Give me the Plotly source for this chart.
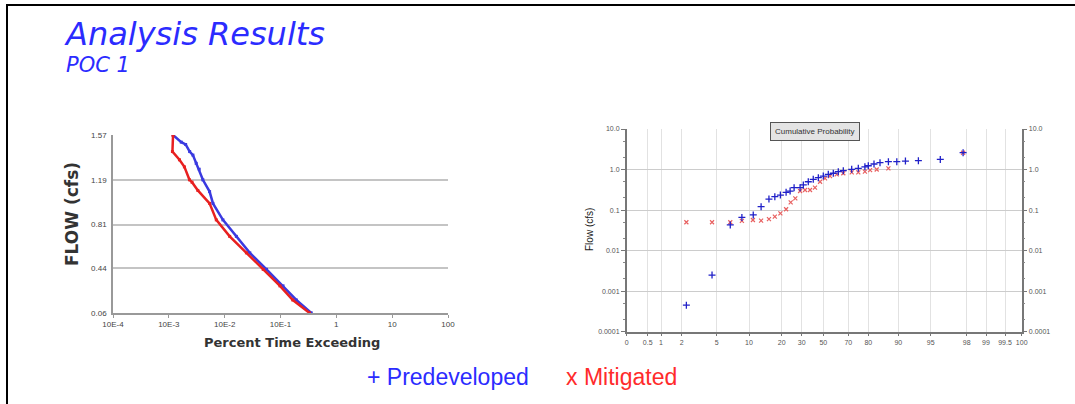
import numpy as np
import plotly.graph_objects as go

W, H = 1075, 404

# ---- left chart: flow duration ----
DUR_TICKS = [1e-4, 1e-3, 1e-2, 1e-1, 1, 10, 100]
DUR_TICKTEXT = ["10E-4", "10E-3", "10E-2", "10E-1", "1", "10", "100"]
FLOW_TICKS = [0.06, 0.44, 0.81, 1.19, 1.57]

pre_exceed = [1.19e-3, 1.67e-3, 2.0e-3, 2.36e-3, 2.7e-3, 3.09e-3, 3.5e-3, 4.07e-3, 5.37e-3,
              6.17e-3, 9.3e-3, 1.62e-2, 2.82e-2, 5.62e-2, 0.111, 0.192, 0.356]
pre_flow = [1.57, 1.51, 1.49, 1.43, 1.40, 1.33, 1.28, 1.19, 1.09,
            0.99, 0.85, 0.71, 0.57, 0.43, 0.29, 0.17, 0.06]

mit_exceed = [1.19e-3, 1.16e-3, 1.55e-3, 1.9e-3, 2.34e-3, 2.6e-3, 3.31e-3, 5.37e-3,
              7.08e-3, 1.23e-2, 2.45e-2, 4.9e-2, 9.77e-2, 0.166, 0.331]
mit_flow = [1.57, 1.43, 1.36, 1.30, 1.19, 1.17, 1.10, 0.99,
            0.85, 0.71, 0.57, 0.43, 0.29, 0.17, 0.06]

# ---- right chart: cumulative probability ----
PROB_TICKS = [0, 0.5, 1, 2, 5, 10, 20, 30, 50, 70, 80, 90, 95, 98, 99, 99.5, 100]
# spacing of the probability paper used by the original chart
PROB_SCALE = [-196.6, -175.6, -162.3, -141.6, -106.6, -74.3, -41.6, -21.6, 0,
              25, 45, 75, 107.4, 143.4, 162.7, 181.7, 198.4]
Q_TICKS = [1e-4, 1e-3, 1e-2, 1e-1, 1, 10]
Q_TICKTEXT = ["0.0001", "0.001", "0.01", "0.1", "1.0", "10.0"]

pre_prob = [2.4, 4.6, 7.1, 8.9, 11.3, 13.7, 16.1, 17.9, 19.6, 22.2, 24.2, 26.2, 29.2, 31.5,
            36.1, 40.7, 45.4, 50.0, 54.0, 58.0, 62.0, 66.0, 71.7, 75.0, 78.3, 80.0, 81.9,
            83.9, 86.7, 89.5, 91.1, 93.1, 95.8, 97.7]
pre_q = [0.00045, 0.0025, 0.043, 0.066, 0.076, 0.121, 0.187, 0.214, 0.235, 0.274, 0.295,
         0.357, 0.357, 0.417, 0.50, 0.573, 0.63, 0.69, 0.76, 0.81, 0.885, 0.94, 1.01, 1.07,
         1.17, 1.24, 1.37, 1.48, 1.56, 1.56, 1.62, 1.65, 1.78, 2.6]

mit_prob = [2.4, 4.6, 7.1, 8.9, 11.2, 13.7, 16.1, 17.9, 19.6, 22.2, 24.5, 26.8, 29.2, 33.1,
            37.7, 42.3, 47.0, 51.4, 55.4, 60.7, 66.0, 71.7, 75.0, 78.3, 80.6, 82.8, 86.7, 97.7]
mit_q = [0.050, 0.050, 0.050, 0.054, 0.057, 0.055, 0.060, 0.069, 0.083, 0.105, 0.155, 0.195,
         0.295, 0.313, 0.313, 0.357, 0.50, 0.607, 0.69, 0.76, 0.81, 0.85, 0.85, 0.885, 0.97,
         1.0, 1.07, 2.6]


def prob_pos(p):
    return np.interp(p, PROB_TICKS, PROB_SCALE)


def px_x(x):
    return x / W


def px_y(y):
    return 1 - y / H


BLUE = "#2b2bff"
RED = "#ff2b2b"

fig = go.Figure()

fig.add_trace(go.Scatter(x=pre_exceed, y=pre_flow, mode="lines+markers",
                         line=dict(color="#3a3ae0", width=2.5),
                         marker=dict(color="#3a3ae0", size=3, symbol="square"),
                         xaxis="x", yaxis="y", showlegend=False))
fig.add_trace(go.Scatter(x=mit_exceed, y=mit_flow, mode="lines+markers",
                         line=dict(color="#e82020", width=2.5),
                         marker=dict(color="#e82020", size=3, symbol="square"),
                         xaxis="x", yaxis="y", showlegend=False))

fig.add_trace(go.Scatter(x=prob_pos(mit_prob), y=mit_q, mode="markers",
                         marker=dict(symbol="x-thin", size=4, line=dict(color="#e86060", width=1.2)),
                         xaxis="x2", yaxis="y2", showlegend=False))
fig.add_trace(go.Scatter(x=prob_pos(pre_prob), y=pre_q, mode="markers",
                         marker=dict(symbol="cross-thin", size=5, line=dict(color="#2020c8", width=1.3)),
                         xaxis="x2", yaxis="y2", showlegend=False))
fig.add_trace(go.Scatter(x=[0], y=[1], mode="markers", marker=dict(opacity=0),
                         xaxis="x2", yaxis="y3", showlegend=False, hoverinfo="skip"))

tickfont = dict(family="Liberation Sans, Arial, sans-serif", size=8, color="#444")
tickfont_r = dict(family="Liberation Sans, Arial, sans-serif", size=7, color="#555")

fig.update_layout(
    width=W, height=H,
    margin=dict(l=0, r=0, t=0, b=0, autoexpand=False),
    paper_bgcolor="white", plot_bgcolor="white",
    xaxis=dict(type="log", domain=[px_x(113), px_x(448)], range=[-4, 2], automargin=False,
               tickvals=DUR_TICKS, ticktext=DUR_TICKTEXT, tickfont=tickfont,
               showgrid=False, showline=True, linecolor="#999", linewidth=1.5,
               ticks="outside", ticklen=3, tickcolor="#999", anchor="y"),
    yaxis=dict(domain=[px_y(313), px_y(135)], range=[0.0595, 1.5705], automargin=False,
               tickvals=FLOW_TICKS, ticktext=["0.06", "0.44", "0.81", "1.19", "1.57"],
               tickfont=tickfont, showgrid=True, gridcolor="#c4c4c4", gridwidth=1.5,
               showline=True, linecolor="#999", linewidth=1.5, zeroline=False,
               ticks="", ticklabelstandoff=3, anchor="x"),
    xaxis2=dict(domain=[px_x(626.7), px_x(1021.7)], range=[PROB_SCALE[0], PROB_SCALE[-1]],
                automargin=False,
                tickvals=PROB_SCALE, ticktext=[str(t) for t in PROB_TICKS], tickfont=tickfont_r,
                showgrid=True, gridcolor="#e2e2e2", gridwidth=1, zeroline=False,
                showline=True, linecolor="#777", linewidth=1.5,
                ticks="outside", ticklen=3, tickcolor="#777", anchor="y2"),
    yaxis2=dict(type="log", domain=[px_y(331.7), px_y(129)], range=[-4, 1], automargin=False,
                tickvals=Q_TICKS, ticktext=Q_TICKTEXT, tickfont=tickfont_r,
                showgrid=True, gridcolor="#cccccc", gridwidth=1,
                showline=True, linecolor="#777", linewidth=1.5,
                ticks="outside", ticklen=4, tickcolor="#777",
                minor=dict(ticks="outside", ticklen=2, tickcolor="#888", showgrid=False),
                anchor="x2"),
    yaxis3=dict(type="log", overlaying="y2", side="right", range=[-4, 1], anchor="x2",
                automargin=False,
                tickvals=Q_TICKS, ticktext=Q_TICKTEXT, tickfont=tickfont_r,
                showgrid=False, showline=True, linecolor="#777", linewidth=1.5,
                ticks="outside", ticklen=4, tickcolor="#777",
                minor=dict(ticks="outside", ticklen=2, tickcolor="#888", showgrid=False)),
    shapes=[
        dict(type="line", xref="paper", yref="paper", x0=px_x(6), x1=1,
             y0=px_y(5), y1=px_y(5), line=dict(color="black", width=2)),
        dict(type="line", xref="paper", yref="paper", x0=px_x(7), x1=px_x(7),
             y0=0, y1=px_y(5), line=dict(color="black", width=2)),
    ],
)

title_font = "DejaVu Sans, Verdana, sans-serif"
fig.add_annotation(text="Analysis Results", xref="paper", yref="paper",
                   x=px_x(62), y=px_y(55), xanchor="left", yanchor="bottom", showarrow=False,
                   font=dict(family=title_font, size=32, color=BLUE, style="italic"))
fig.add_annotation(text="POC 1", xref="paper", yref="paper",
                   x=px_x(64), y=px_y(79), xanchor="left", yanchor="bottom", showarrow=False,
                   font=dict(family=title_font, size=21, color=BLUE, style="italic"))

# axis titles
fig.add_annotation(text="FLOW (cfs)", xref="paper", yref="paper", x=px_x(72), y=px_y(214),
                   xanchor="center", yanchor="middle", textangle=-90, showarrow=False,
                   font=dict(family="DejaVu Sans, sans-serif", size=17, color="#333", weight="bold"))
fig.add_annotation(text="Percent Time Exceeding", xref="paper", yref="paper",
                   x=px_x(292), y=px_y(342), xanchor="center", yanchor="middle", showarrow=False,
                   font=dict(family="DejaVu Sans, sans-serif", size=13, color="#333", weight="bold"))
fig.add_annotation(text="Flow (cfs)", xref="paper", yref="paper", x=px_x(590), y=px_y(230),
                   xanchor="center", yanchor="middle", textangle=-90, showarrow=False,
                   font=dict(family="Liberation Sans, Arial, sans-serif", size=10, color="#222"))
fig.add_annotation(text="Cumulative Probability", xref="paper", yref="paper",
                   x=px_x(815), y=px_y(131), xanchor="center", yanchor="middle", showarrow=False,
                   bgcolor="#e4e4e4", bordercolor="#555", borderwidth=1, borderpad=4,
                   font=dict(family="Liberation Sans, Arial, sans-serif", size=8, color="#333"))

# legend text
leg_font = "Liberation Sans, Arial, sans-serif"
fig.add_annotation(text="+ Predeveloped", xref="paper", yref="paper",
                   x=px_x(365), y=px_y(377), xanchor="left", yanchor="middle", showarrow=False,
                   font=dict(family=leg_font, size=23, color=BLUE))
fig.add_annotation(text="x Mitigated", xref="paper", yref="paper",
                   x=px_x(564), y=px_y(377), xanchor="left", yanchor="middle", showarrow=False,
                   font=dict(family=leg_font, size=23, color=RED))

pin_page = (
    "document.documentElement.style.margin='0';"
    "document.body.style.margin='0';document.body.style.overflow='hidden';"
    "var gd=document.getElementById('{plot_id}');"
    "gd.style.position='fixed';gd.style.left='0px';gd.style.top='0px';"
)
fig.write_html("out.html", config={"displayModeBar": False}, post_script=pin_page)
